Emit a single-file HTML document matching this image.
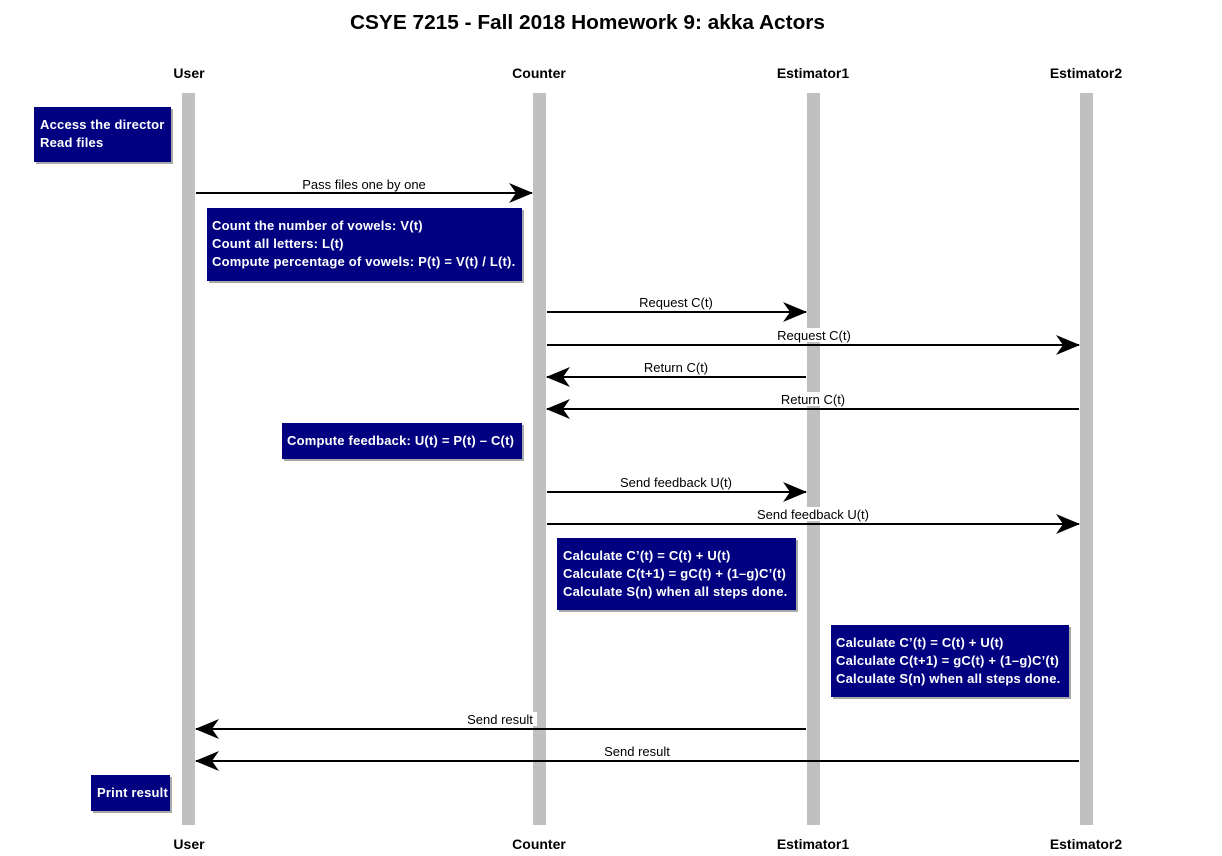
<!DOCTYPE html>
<html><head><meta charset="utf-8"><style>
html,body{margin:0;padding:0;background:#fff;}
svg{display:block;}
text{font-family:"Liberation Sans",Arial,sans-serif;}
.n{font-size:14px;font-weight:bold;fill:#000;text-anchor:middle;}
.t{font-size:13px;fill:#fff;font-weight:bold;letter-spacing:0.2px;}
.l{font-size:13px;fill:#000;text-anchor:middle;}
.ln{stroke:#000;stroke-width:2;}
</style></head><body>
<svg width="1222" height="856" viewBox="0 0 1222 856" xmlns="http://www.w3.org/2000/svg">
<defs>
<marker id="a" viewBox="0 0 24 20" refX="23" refY="10" markerWidth="24" markerHeight="20" markerUnits="userSpaceOnUse" orient="auto">
<path d="M0,0 L24,10 L0,20 L7,10 Z" fill="#000"/>
</marker>
</defs>
<text x="350" y="29" style="font-size:20px;font-weight:bold" textLength="475" lengthAdjust="spacingAndGlyphs">CSYE 7215 - Fall 2018 Homework 9: akka Actors</text>
<g class="n">
<text x="189" y="78">User</text><text x="539" y="78">Counter</text><text x="813" y="78">Estimator1</text><text x="1086" y="78">Estimator2</text>
<text x="189" y="849">User</text><text x="539" y="849">Counter</text><text x="813" y="849">Estimator1</text><text x="1086" y="849">Estimator2</text>
</g>
<g fill="#c0c0c0">
<rect x="182" y="93" width="13" height="732"/>
<rect x="533" y="93" width="13" height="732"/>
<rect x="807" y="93" width="13" height="732"/>
<rect x="1080" y="93" width="13" height="732"/>
</g>
<g fill="#fff">
<rect x="298" y="177" width="132" height="14"/>
<rect x="636" y="296" width="81" height="14"/>
<rect x="773" y="328" width="82" height="14"/>
<rect x="641" y="360" width="71" height="14"/>
<rect x="777" y="392" width="72" height="14"/>
<rect x="615" y="475" width="122" height="14"/>
<rect x="752" y="507" width="122" height="14"/>
<rect x="464" y="712" width="73" height="14"/>
<rect x="600" y="744" width="73" height="14"/>
</g>
<g class="ln" marker-end="url(#a)">
<line x1="196" y1="193" x2="532" y2="193"/>
<line x1="547" y1="312" x2="806" y2="312"/>
<line x1="547" y1="345" x2="1079" y2="345"/>
<line x1="806" y1="377" x2="547" y2="377"/>
<line x1="1079" y1="409" x2="547" y2="409"/>
<line x1="547" y1="492" x2="806" y2="492"/>
<line x1="547" y1="524" x2="1079" y2="524"/>
<line x1="806" y1="729" x2="196" y2="729"/>
<line x1="1079" y1="761" x2="196" y2="761"/>
</g>
<g class="l">
<text x="364" y="189">Pass files one by one</text>
<text x="676" y="307">Request C(t)</text>
<text x="814" y="340">Request C(t)</text>
<text x="676" y="372">Return C(t)</text>
<text x="813" y="404">Return C(t)</text>
<text x="676" y="487">Send feedback U(t)</text>
<text x="813" y="519">Send feedback U(t)</text>
<text x="500" y="724">Send result</text>
<text x="637" y="756">Send result</text>
</g>
<g fill="#a8a8a8">
<rect x="36" y="109" width="137" height="55"/>
<rect x="209" y="210" width="315" height="73"/>
<rect x="284" y="425" width="240" height="36"/>
<rect x="559" y="540" width="239" height="72"/>
<rect x="833" y="627" width="238" height="72"/>
<rect x="93" y="777" width="79" height="36"/>
</g>
<g fill="#000080">
<rect x="34" y="107" width="137" height="55"/>
<rect x="207" y="208" width="315" height="73"/>
<rect x="282" y="423" width="240" height="36"/>
<rect x="557" y="538" width="239" height="72"/>
<rect x="831" y="625" width="238" height="72"/>
<rect x="91" y="775" width="79" height="36"/>
</g>
<g class="t">
<text x="40" y="129">Access the director</text>
<text x="40" y="147">Read files</text>
<text x="212" y="230">Count the number of vowels: V(t)</text>
<text x="212" y="248">Count all letters: L(t)</text>
<text x="212" y="266">Compute percentage of vowels: P(t) = V(t) / L(t).</text>
<text x="287" y="445">Compute feedback: U(t) = P(t) – C(t)</text>
<text x="563" y="560">Calculate C’(t) = C(t) + U(t)</text>
<text x="563" y="578">Calculate C(t+1) = gC(t) + (1–g)C’(t)</text>
<text x="563" y="596">Calculate S(n) when all steps done.</text>
<text x="836" y="647">Calculate C’(t) = C(t) + U(t)</text>
<text x="836" y="665">Calculate C(t+1) = gC(t) + (1–g)C’(t)</text>
<text x="836" y="683">Calculate S(n) when all steps done.</text>
<text x="97" y="797">Print result</text>
</g>
</svg>
</body></html>
